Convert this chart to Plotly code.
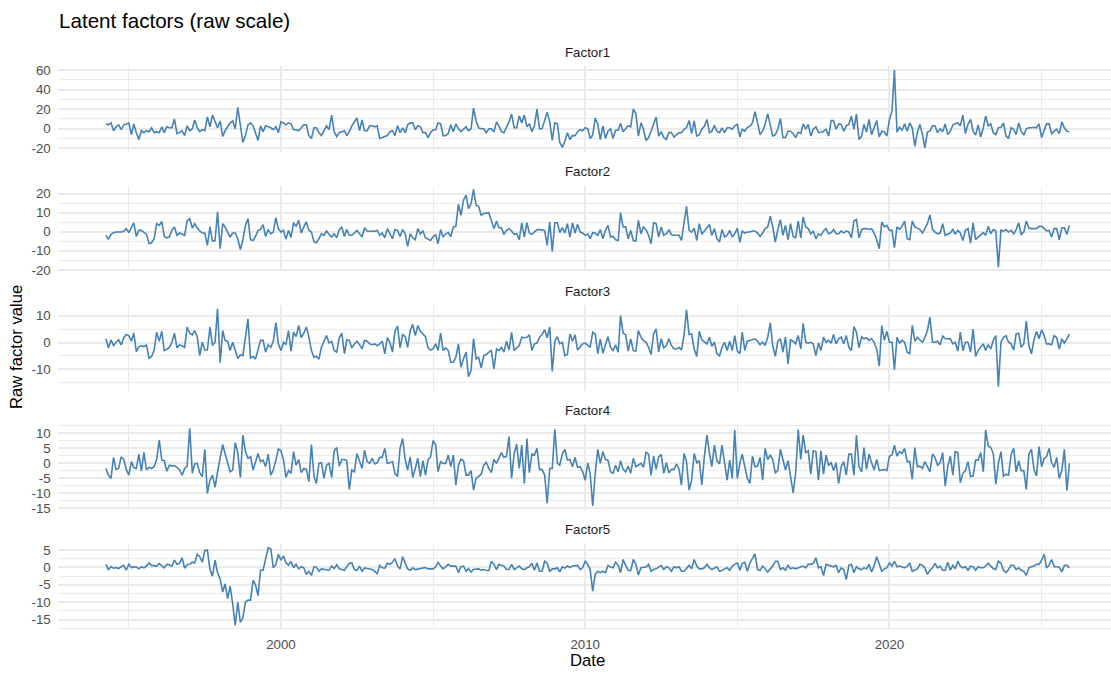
import pandas as pd
import plotly.graph_objects as go

# ---------------- data ----------------
start_month = "1994-04-01"

factor1_a = [5,4,6,-2,2,4,-1,4,4.5,6,-6,5,-4,-11,-2,-4,-2,-3,1,-4,-3,-4,2,-4,2,1,1,10,-5,-4,-2,-7,3,-2,0,9,1,-3,-1,-2,12,2,14,7,1,8,-8,-2,2,6,8,0,22,4,-14,-7,4,6,3,-4,-12,3,-3,3,2,1,-1,2,-4,7,6,4,6,5,-1,-1,-2,1,4,4,-7,-10,1,1,-4,-7,-2,3,-1,14,-3,-8,-4,-3,-2,-7,-3,3,7,11,-2,9,-2,-2,3,3,2,3,-10,-9,-8,-7,-3,-2,-7,3,-4,1,-4,4,6,6,-1,3,2,-4,-4,-9,-4,-1,-1,6,5,-7,-7,-5,4,-3,5,0,-3,0,2,-2,0,21,8,1,0,0,-4,0,0,-3,7,3,-3,-4,1,7,15,1,1,13,6,14,2,5,-3,3,20,0,0,8,17,7,-12,6,5,-14,-19,-13,-4,-11,-7,-7,-3,-1,-2,1]
factor1_b = [0,-10,-6.5,11,4.5,-11,3,-10,-2.5,0,-10,-1.5,-1.5,5.5,-3,0,3,2,20,15.5,-7.5,6,-0.5,-12,-9,-2.5,4.5,12,-7.5,-3,-9,-11,-4,-4,-8.5,-6.5,-4,-4,-0.5,1,8.5,-5,8,-7.5,-6,-0.5,2.5,9.5,-4,-2.5,3.5,-2.5,-4,1,-4,1,1,-0.5,3,4.5,-8.5,-0.5,-2.5,1.5,2.5,6,17.5,6,-6,-2.5,4.5,15.5,4.5,-7.5,-6,-0.5,10.5,-9,-9,-2.5,-2.5,-5,-9,-3.5,-5,5,-0.5,4.5,-7.5,-0.5,2,-4,-3.5,-2.5,-0.5,-7.5,8.5,8.5,-0.5,5,4.5,-2.5,3,4.5,13,-0.5,15,-11,-7.5,4.5,-3.5,9.5,-6,1,8.5,-8.5,-2.5,-3,-7.5,9.5,18,60,-3.5,1.5,-1.5,5,-2.5,6,1,-18,-4,4.5,-6,-19.5,-3.5,-2.5,3,3,-4,0,-3,5,-6,-2.5,4,5,6,3,14,-5,4.5,9.5,-2.5,-6.5,4,-8.5,1,13,3,5,-4,-6,1,1.5,6,-7.5,-10,1,-0.5,-6,6,-2.5,-6.5,0,1,1,1.5,1,5,-9,-1.5,5,5,-5,-2.5,-0.5,-5,7,1,-2.5,-3]

factor2_a = [-1.9,-4.0,-1.4,-0.5,-0.2,-0.2,-0.2,0.2,1.6,-0.5,1.9,4.6,-2.5,0.7,0.7,-0.2,-1.4,-6.3,-5.8,-3.7,4.2,3.3,5.3,-2.5,-3.2,-2.8,0.7,2.5,-1.9,-0.7,-1.4,-1.9,5.6,6.8,1.9,4.2,2.1,0.4,-0.7,-0.7,-7.2,2.5,-4.9,-4.6,10.4,-8.9,4.2,2.5,-0.2,-2.8,-0.7,-0.7,-3.7,-9.3,-4.2,3.3,6.8,-4.2,-4.6,-2.5,0.7,1.1,3.7,-2.5,1.1,-1.1,-0.2,7.4,1.6,-0.2,0.7,-3.9,0.7,-3.0,4.7,2.8,6.0,-0.7,2.5,5.1,0.7,-0.2,-5.4,-5.8,-3.7,-1.1,-1.9,0.4,-1.4,-2.8,-1.1,-3.2,1.1,2.5,-2.5,1.1,-1.9,-1.9,-0.7,0.7,-1.1,-2.8,2.1,0.4,0.2,0.2,0.2,0.7,-1.9,-0.7,-3.2,1.6,-1.1,-3.7,1.1,0.7,-2.5,1.1,-1.1,-7.7,-1.1,-3.2,-4.2,1.6,-1.1,0.4,-3.2,-3.7,-4.6,-2.5,-1.6,-6.3,1.1,-2.8,-1.1,-0.4,-2.5,2.5,2.8,14.4,8.6,16.5,19.1,12.1,14.7,22.1,13.9,13.3,8.6,9.5,9.5,9.8,6.0,1.6,5.6,2.1,2.1,-1.4,0.7,1.6,0.4,-1.4,-1.1,-4.2,4.6,-2.8,4.7,-0.7,-1.4,-0.2,1.1,1.1,0.7,0.7,-7.2,5.1,-10.4,4.7,4.7,-0.5,2.1,-0.7,4.2,-2.8,4.6,-0.7,3.9,-0.2,-0.7,-1.9]
factor2_b = [-1.1,-3.7,-0.5,-0.7,-1.9,1.1,-3.7,0.7,3.3,-2.8,-2.5,-4.2,-4.6,10.0,2.5,2.5,-3.7,0.7,-4.6,-4.9,6.0,-1.1,2.5,1.1,-1.9,-6.3,4.7,4.2,-2.8,2.5,-1.9,-1.1,1.1,-1.6,-1.9,-1.9,-1.9,-4.6,6.0,13.3,0.7,-0.2,1.9,-4.6,4.2,-1.4,0.4,2.1,3.7,-1.9,1.6,-3.7,-5.4,1.1,-2.8,-1.9,0.7,-2.8,-1.1,1.9,-5.6,0.4,-0.7,-0.2,-0.2,0.4,0.4,-0.7,-2.5,-0.7,1.6,2.5,8.1,2.5,-5.4,1.1,6.3,-1.9,3.3,-4.2,4.2,-2.5,-3.2,5.6,-3.2,7.7,2.5,1.6,-1.1,0.4,-3.7,-1.1,-1.9,0.4,1.6,-1.1,-0.5,1.1,-1.1,-1.1,0.4,-0.7,0.4,-0.2,-3.2,5.6,6.5,-3.2,1.1,1.6,1.6,1.2,1.6,-0.7,-4.2,-8.9,5.1,2.5,3.3,0.7,0.7,-8.4,2.5,1.2,2.8,5.6,-3.7,-4.2,5.6,2.5,1.6,1.1,-0.7,1.6,4.2,8.8,1.2,-0.2,-1.1,-0.7,4.2,-1.9,-1.1,-0.7,1.2,-1.4,0.7,-0.7,-4.6,0.7,1.6,-6.0,4.6,-4.2,-2.8,-1.4,-0.5,-1.9,2.8,-1.1,1.1,0.4,-18.6,1.1,0.2,1.1,-0.2,0.7,-1.1,1.1,4.6,-1.4,-0.2,5.6,1.9,1.6,1.6,1.6,2.8,2.8,1.6,0.4,0.7,-2.8,1.6,1.6,-4.2,2.1,2.1,-1.4,3.3]

factor3_a = [1.4,-2.0,1.0,-1.1,0.1,1.0,-0.9,1.8,3.0,2.6,0.5,3.6,-3.4,-1.5,-1.2,-1.5,-1.0,-5.9,-5.2,-2.8,3.9,0.5,4.2,-3.0,-2.5,-1.8,0,3.5,-2.0,-0.9,-1.2,-1.8,5.8,3.5,2.9,4.5,2.2,-4.9,0.1,-2.8,-2.8,5.8,-1.1,0.1,12.6,-7.5,4.5,0.8,0.5,-3.0,0.1,-2.8,-6.0,-4.6,-4.9,2.0,8.9,-5.8,-5.2,-6.2,-2.4,0.8,0.8,-3.6,-0.8,-1.8,0.5,7.5,-0.5,-3.0,0.1,-0.8,4.5,-3.2,3.9,2.2,6.4,1.8,3.5,5.8,2.2,-3.0,-5.5,-5.2,-6.2,-1.8,0.5,2.6,-0.2,0.5,-3.0,-3.6,1.8,3.5,-4.2,1.0,0.8,-2.0,-0.5,0.5,-0.8,-2.4,0.8,0.5,-0.5,-0.8,-0.5,-1.2,-0.5,0.5,-4.2,1.8,0.1,-3.6,4.2,6.2,-2.0,3.0,2.2,-1.8,4.5,6.8,2.6,6.4,4.2,3.2,2.2,-2.0,-2.8,-2.4,-0.5,-3.0,3.5,-3.0,-2.0,-3.0,-7.4,-7.4,-5.5,-0.5,-9.2,-6.1,-3.6,-12.8,-10.5,1.4,-6.1,-5.5,-9.5,-4.9,-4.5,-3.6,-3.0,-9.9,-2.4,-3.0,-1.8,-3.6,0.5,-2.8,3.8,-3.0,-2.0,-1.1,2.0,1.8,2.0,2.9,-3.0,-0.5,-0.2,2.0,2.9,4.8,1.8,5.8,-10.8,0.5,2.2,-0.5,0.1,-4.9,-4.5,3.2,0.5,2.9,-2.8,-1.5,-0.5,-0.2]
factor3_b = [-1.1,-1.8,3.9,3.2,-4.2,1.4,-4.0,-0.5,2.2,-1.8,-3.0,-0.9,-3.6,10.1,3.5,3.0,-3.2,1.4,-3.0,-3.2,4.5,2.0,0.8,0.1,-1.8,-4.5,3.2,5.1,-3.6,1.4,-2.0,-1.1,1.4,-1.1,-2.4,-2.4,-1.8,-2.8,2.6,12.2,3.0,3.2,-2.4,-5.2,4.2,1.0,0.1,-0.5,2.0,-1.4,0.1,-4.2,-5.0,-1.8,0.1,-3.0,0.5,-3.0,2.6,-3.2,-4.2,3.9,-3.0,0.5,0.8,1.0,1.4,0.5,-0.8,0.1,-1.1,2.0,7.4,-1.1,-5.2,0.5,1.4,-3.6,2.0,-8.0,1.0,0.5,-0.5,2.6,-2.4,7.2,0.1,-0.2,0.1,-0.5,-4.9,-0.2,-3.0,2.0,0.1,0.8,-0.2,3.0,-0.5,1.4,2.0,-0.5,2.6,-1.8,-3.0,6.0,3.9,-2.0,2.2,1.4,1.8,0.8,1.5,0.1,-2.4,-8.8,6.4,0.8,4.2,0.1,0.1,-10.2,2.0,-0.2,0.8,0.1,-3.6,-4.2,6.4,0.5,2.0,1.0,0.1,1.8,4.5,9.5,0.1,0.1,0.5,-0.8,2.4,1.4,1.4,1.4,-0.5,0.1,-3.2,3.9,-3.0,0.1,0.1,-3.6,5.0,-5.2,-3.0,-1.5,-0.5,-3.0,-0.8,-2.4,0.8,2.6,-16.5,0.1,2.0,2.6,0.1,-0.5,-2.8,3.2,3.5,-1.8,-0.5,8.0,-1.1,-4.2,1.0,4.2,1.4,4.8,2.6,-0.5,-0.5,-0.8,2.6,1.8,-2.4,1.4,-0.2,1.4,3.2]

factor4_a = [-1.7,-3.9,-5.0,2.0,-2.0,-1.7,2.2,1.3,-2.0,-3.9,0.6,-1.4,-1.7,3.1,-2.6,3.7,-2.2,-1.3,-1.7,-1.1,1.3,7.8,1.1,0.9,-2.6,-0.6,-0.9,-0.7,-1.3,-2.2,-3.9,-1.7,-0.9,11.7,-3.3,-0.2,0,-3.1,-4.4,4.7,-10.0,-5.6,-3.9,-8.0,-2.8,2.4,6.3,3.3,0.6,-2.8,-2.2,6.9,3.6,-4.7,9.4,3.9,1.7,2.2,-2.2,0.6,3.3,0.6,1.1,-1.1,3.1,-3.9,-2.2,1.1,4.8,4.2,1.1,-4.7,-2.4,-3.3,3.9,-0.6,1.3,-3.1,-1.7,-2.0,-6.1,6.3,-4.4,-6.7,0,0.2,-5.0,-0.6,0,-4.7,4.2,5.3,-0.9,1.3,1.3,0.9,-8.7,-2.2,-2.8,3.3,0.6,-1.7,4.4,0.6,0,1.7,-0.2,0.2,2.0,2.0,5.0,0,0.2,0.6,-3.3,-4.4,5.0,8.3,1.3,-2.2,2.2,-4.7,-1.7,1.7,-4.4,0.9,-3.9,1.3,2.2,7.6,6.1,-2.8,0.6,0,0,2.8,-1.1,2.8,-7.2,-0.6,1.4,0.9,-3.9,-3.9,-2.4,-8.9,-5.0,-4.4,-3.6,-0.6,0.3,-1.7,-3.1,1.3,0,1.7,3.6,2.0,2.4,8.9,-5.0,3.3,6.4,-1.7,6.1,-6.7,8.3,-3.1,3.1,2.8,5.0,-2.0,-2.0,-3.9,-13.3,-1.7,-1.7,11.3,0,-0.6,3.1,4.7,1.1,1.3,-1.1,2.0,-1.3,-1.1,-2.8,-5.6]
factor4_b = [0.2,-3.3,-14.2,-3.3,4.7,0,3.9,1.3,1.1,-2.8,-3.3,-0.6,-2.8,0.9,-2.0,-2.8,-0.9,-3.3,1.7,-1.1,-0.6,0,-1.3,3.7,3.1,-3.9,2.4,-2.0,2.2,3.0,-3.3,0.2,-3.1,-2.0,-2.0,-0.2,-2.0,-7.2,3.3,0.6,-8.9,-5.6,3.3,0.2,0.9,-7.2,2.2,9.4,3.3,-1.1,6.1,0.9,-0.2,6.1,0.2,-5.6,1.1,-5.0,11.1,-5.0,0.2,3.1,-1.1,-5.0,-6.7,2.4,-1.1,-0.9,2.0,-5.6,5.0,1.3,2.8,1.3,-3.1,-2.4,4.7,1.1,-2.2,0.9,-4.2,-9.8,-3.3,11.3,1.3,9.4,3.6,4.2,-3.6,4.2,3.9,-5.6,4.2,-3.6,2.8,-0.6,0.2,-2.4,0.2,-6.7,-1.1,0.6,-3.9,3.1,3.1,-3.9,9.4,-1.1,-2.8,5.3,-2.0,3.1,0.2,-2.2,1.3,-2.4,-2.2,-2.0,-2.4,2.4,2.8,6.1,2.4,3.9,3.3,5.0,0.6,0.6,-5.3,5.3,-1.1,-0.9,-1.7,0.6,-1.1,-2.8,3.1,2.0,-0.6,0.2,3.6,-7.6,-1.1,2.4,-3.9,3.9,3.6,-6.4,-3.3,-2.4,0.6,-4.4,-4.2,1.1,1.1,3.6,-2.8,11.1,5.8,5.3,3.3,-6.9,0,3.9,-4.2,-3.6,-3.9,3.1,5.0,-2.8,0.9,-2.4,-2.4,-8.7,3.1,4.7,-2.0,-4.2,5.6,-1.1,1.7,2.2,5.0,0.2,-1.3,2.0,-5.0,-2.4,4.7,-9.1,0]

factor5_a = [0.9,-0.6,0.2,-0.2,0,-0.3,0.2,0.6,-0.8,0.9,-0.1,0.2,0.1,-0.4,0.2,-0.1,0.4,1.3,0.6,0.6,0.4,1.1,0.6,-0.1,0.9,0.8,0.4,2.1,0.9,1.2,2.8,-0.2,0.8,0.9,1.5,1.3,3.8,3.1,1.5,4.9,5.0,-0.6,-2.5,2.1,-1.5,-3.3,-7.1,-4.7,-9.0,-5.4,-10.5,-16.7,-10.0,-15.8,-14.5,-10.0,-9.4,-9.4,-3.7,-4.9,-8.1,-0.8,-0.8,2.5,5.7,5.4,-0.1,0.9,3.8,2.1,3.3,1.3,0.7,1.7,-0.1,0.9,-0.4,0.2,-0.1,-2.0,-1.1,-2.3,0.2,0.1,-1.1,-0.4,-0.6,-0.6,-0.8,0.4,-0.3,0.8,-0.4,-0.6,-0.8,0.2,1.2,1.3,-0.6,-0.9,0.4,-1.1,-0.1,-0.3,-0.4,-0.6,-1.1,-1.9,0.6,-0.1,-0.2,1.2,0.9,1.5,2.5,0.4,-0.4,3.1,1.2,-0.4,-0.8,-0.1,-0.6,-0.4,-0.2,-0.1,0,-0.4,-0.4,-0.4,0.2,1.5,0.4,-0.4,0.2,0.9,0.4,0.4,0.4,-1.5,0.2,0.4,-1.1,-0.3,-1.3,-0.6,-0.4,-0.4,-0.8,-0.6,-0.8,-0.9,1.8,0.9,-0.6,0.9,0.6,0.4,-0.6,-0.6,0.9,-0.6,-0.1,0.4,-0.4,-0.6,-0.1,0.2,1.2,-0.8,1.3,-1.1,-1.1,1.8,1.2,-1.1,-0.4,-0.4,-0.1,-1.3,0.2,-0.2,0.4,0,0.4,0.4,0.6,-0.6,-0.1,1.8]
factor5_b = [0.9,-0.6,-6.8,-2.0,-1.1,-1.5,-1.1,-1.5,0.6,0.1,-0.1,1.5,0.6,-1.5,2.3,0.6,-0.8,-0.9,2.3,0.9,-2.2,-0.1,-0.1,0.1,0.9,-1.1,-0.6,-0.4,0.1,0.6,-0.6,0.2,-0.1,-1.1,0.2,-0.1,0.2,-1.1,-1.1,-0.4,0.6,-0.4,2.3,0.4,-0.4,-0.4,-0.1,0.9,-0.1,-0.6,-0.1,0.2,-1.1,-0.9,-0.4,-0.1,-0.8,0.4,0.9,1.3,-0.8,1.2,1.5,-1.1,1.3,2.8,3.9,-0.6,-0.9,0.4,-0.6,-1.3,-0.4,0.4,1.8,1.8,-0.6,-0.1,-0.8,0.6,-0.4,-0.1,-0.4,-0.1,0.2,0.4,-0.1,0.9,0.9,1.2,2.8,-0.1,0.2,-2.3,0.9,0.6,0.4,0.2,0.6,-1.5,-0.1,-0.6,-3.5,0.6,0.9,-1.5,0.2,-0.4,-0.6,-0.1,-0.4,0.9,-1.3,0.4,3.1,0.9,-1.1,-0.4,-0.1,1.3,0.4,1.8,0.2,0.4,0.1,-0.1,0.4,1.2,-1.1,-0.8,-0.4,0.9,0.6,-0.1,-2.0,-0.8,-0.1,1.2,-0.1,0.4,-0.8,-0.8,1.5,-0.8,0.6,-0.4,1.8,0.4,-0.1,0.2,-0.8,0.4,0.2,-0.8,0.2,-0.1,-0.1,0.4,1.2,0.4,-0.4,-0.6,1.8,1.2,-0.8,-1.5,-0.6,0.7,0.6,-0.6,-0.1,-0.8,-1.1,-2.3,-0.1,0.2,0.4,0.9,0.9,2.1,3.8,-0.1,0.6,2.3,0.2,0.2,0.1,-1.3,0.6,0.6,-0.1]

factor_names = ["Factor1", "Factor2", "Factor3", "Factor4", "Factor5"]
factor_values = [factor1_a + factor1_b, factor2_a + factor2_b, factor3_a + factor3_b,
                 factor4_a + factor4_b, factor5_a + factor5_b]

y_tick_values = [[-20, 0, 20, 40, 60], [-20, -10, 0, 10, 20], [-10, 0, 10],
                 [-15, -10, -5, 0, 5, 10], [-15, -10, -5, 0, 5]]
y_minor_step = [10, 5, 5, 2.5, 2.5]
x_tick_years = [2000, 2010, 2020]
x_minor_years = [1995, 2005, 2015, 2025]

title_text = "Latent factors (raw scale)"
x_title = "Date"
y_title = "Raw factor value"

# ---------------- figure ----------------
W, H = 1111, 673
FONT = "Liberation Sans, Arial, sans-serif"
LINE = "#4682B4"
GRID = "#EBEBEB"

panel_tops = [66.2, 185.6, 305.0, 424.4, 543.8]
panel_h = 85.5
left_px = 57.7

fig = go.Figure()
layout = dict(width=W, height=H, margin=dict(l=0, r=0, t=0, b=0),
              paper_bgcolor="white", plot_bgcolor="white", showlegend=False,
              font=dict(family=FONT, color="#4D4D4D"))

x_range = ["1992-08-30", "2027-04-14"]
annotations = []
for i, (name, vals) in enumerate(zip(factor_names, factor_values)):
    k = "" if i == 0 else str(i + 1)
    dates = pd.date_range(start_month, periods=len(vals), freq="MS")
    fig.add_trace(go.Scatter(x=dates, y=vals, mode="lines",
                             line=dict(color=LINE, width=1.6),
                             xaxis="x" + k, yaxis="y" + k, name=name))
    lo, hi = min(vals), max(vals)
    pad = 0.05 * (hi - lo)
    top = panel_tops[i]
    dom = [1 - (top + panel_h) / H, 1 - top / H]
    last = i == len(factor_names) - 1
    layout["xaxis" + k] = dict(
        domain=[left_px / W, 1], anchor="y" + k, range=x_range, type="date",
        tickvals=[f"{y}-01-01" for y in x_tick_years],
        ticktext=[str(y) for y in x_tick_years],
        showticklabels=last, showgrid=True, gridcolor=GRID, gridwidth=1.6,
        minor=dict(tickvals=[f"{y}-01-01" for y in x_minor_years], showgrid=True,
                   gridcolor=GRID, gridwidth=0.8),
        zeroline=False, showline=False, ticks="", automargin=False,
        tickfont=dict(size=13.3, color="#4D4D4D", family=FONT),
        ticklabelstandoff=5,
    )
    if i > 0:
        layout["xaxis" + k]["matches"] = "x"
    layout["yaxis" + k] = dict(
        domain=dom, anchor="x" + k, range=[lo - pad, hi + pad],
        tickvals=y_tick_values[i], ticktext=[str(v) for v in y_tick_values[i]],
        showgrid=True, gridcolor=GRID, gridwidth=1.6,
        minor=dict(dtick=y_minor_step[i], tick0=0, showgrid=True, gridcolor=GRID, gridwidth=0.8),
        zeroline=False, showline=False, ticks="", automargin=False,
        tickfont=dict(size=13.3, color="#4D4D4D", family=FONT),
        ticklabelstandoff=6,
    )
    annotations.append(dict(text=name, xref="paper", yref="paper",
                            x=(587.5) / W, y=1 - (top - 14) / H,
                            xanchor="center", yanchor="middle", showarrow=False,
                            font=dict(size=13.3, color="#1A1A1A", family=FONT)))

annotations.append(dict(text=title_text, xref="paper", yref="paper", x=56.5 / W, y=1 - 20 / H,
                        xanchor="left", yanchor="middle", showarrow=False,
                        font=dict(size=20.6, color="black", family=FONT)))
annotations.append(dict(text=x_title, xref="paper", yref="paper", x=587.5 / W, y=1 - 660 / H,
                        xanchor="center", yanchor="middle", showarrow=False,
                        font=dict(size=16.7, color="black", family=FONT)))
annotations.append(dict(text=y_title, xref="paper", yref="paper", x=17 / W, y=1 - 347 / H,
                        xanchor="center", yanchor="middle", showarrow=False, textangle=-90,
                        font=dict(size=16.7, color="black", family=FONT)))
layout["annotations"] = annotations
fig.update_layout(**layout)
fig.write_html("out.html")
